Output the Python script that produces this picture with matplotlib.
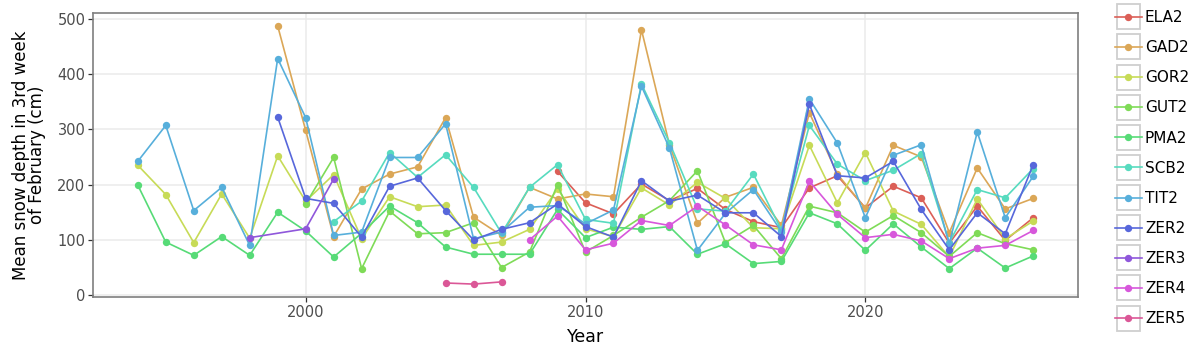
"""Mean February snow depth per station, 1994-2026 (plotnine-like look)."""
import numpy as np
import matplotlib
matplotlib.use("Agg")
import matplotlib.pyplot as plt
from matplotlib.patches import Rectangle
from matplotlib.transforms import IdentityTransform
import seaborn as sns

N = None

years = list(range(1994, 2027))

ELA2 = [N] * 15 + [224, 167, 147, 201, 171, 193, 155, 133, 122, 194,
                   216, 158, 197, 176, 94, 161, 99, 140]
GAD2 = [N] * 5 + [487, 298, 106, 192, 219, 232, 321, 141, 108, 195,
                  174, 183, 178, 480, 272, 130, 177, 195, 126, 330,
                  219, 157, 271, 250, 113, 230, 156, 175]
GOR2 = [235, 182, 95, 183, 103, 252, 170, 218, 102, 178,
        160, 163, 90, 96, 119, 192, 120, 106, 194, 163,
        204, 175, 122, 120, 271, 167, 258, 152, 128, 69,
        174, 102, 134]
GUT2 = [N] * 6 + [165, 249, 48, 152, 111, 113, 131, 50, 78, 200,
                  78, 108, 141, 171, 225, 95, 126, 66, 161, 149,
                  114, 144, 113, 70, 113, 93, 82]
PMA2 = [199, 96, 72, 106, 72, 150, 116, 69, 112, 161,
        131, 87, 74, 74, 74, 155, 104, 123, 119, 124,
        74, 93, 57, 61, 149, 129, 81, 129, 87, 48,
        85, 49, 71]
SCB2 = [N] * 7 + [133, 170, 258, 213, 254, 195, 112, 195, 236,
                  137, 130, 382, 276, 156, 152, 219, 118, 307, 237,
                  207, 226, 256, 95, 191, 176, 229]
TIT2 = [242, 307, 153, 195, 90, 428, 321, 108, 114, 249,
        249, 310, 102, 114, 159, 162, 129, 154, 378, 266,
        81, 148, 191, 115, 355, 275, 140, 253, 272, 93,
        295, 140, 215]
ZER2 = [N] * 5 + [322, 175, 166, 105, 197, 212, 153, 100, 119, 131,
                  165, 124, 105, 207, 170, 181, 149, 149, 106, 345,
                  216, 212, 242, 155, 82, 149, 111, 236]
ZER3 = [N] * 4 + [104, N, 120, 210] + [N] * 25
ZER4 = [N] * 14 + [100, 143, 82, 94, 135, 126, 161, 127, 91, 82,
                   206, 146, 104, 110, 98, 66, 85, 90, 117]
ZER5 = [N] * 11 + [22, 20, 24] + [N] * 19

stations = ["ELA2", "GAD2", "GOR2", "GUT2", "PMA2", "SCB2",
            "TIT2", "ZER2", "ZER3", "ZER4", "ZER5"]
series = [ELA2, GAD2, GOR2, GUT2, PMA2, SCB2, TIT2, ZER2, ZER3, ZER4, ZER5]

colors = sns.hls_palette(len(stations), h=0.01, l=0.6, s=0.65)

fig = plt.figure(figsize=(12, 3.6), dpi=100)
ax = fig.add_axes([93 / 1200, 1 - 297 / 360, (1078 - 93) / 1200, (297 - 13) / 360])

x_all = np.array(years, dtype=float)
for name, vals, col in zip(stations, series, colors):
    y = np.array([np.nan if v is None else v for v in vals], dtype=float)
    ok = ~np.isnan(y)
    ax.plot(x_all[ok], y[ok], color=col, lw=1.2, marker="o", ms=5.3,
            mew=0, label=name, zorder=3)

ax.margins(x=0.05, y=0.05)
ax.set_xticks([2000, 2010, 2020])
ax.set_yticks([0, 100, 200, 300, 400, 500])
ax.grid(True, color="#ebebeb", lw=1.1, zorder=0)
ax.set_axisbelow(True)
for sp in ax.spines.values():
    sp.set_color("#7f7f7f")
    sp.set_linewidth(1.2)
ax.tick_params(length=3.5, width=0.9, color="#333333",
               labelcolor="#4d4d4d", labelsize=10.5, pad=2)
ax.set_xlabel("Year", fontsize=12.5, labelpad=6)
ax.set_ylabel("Mean snow depth in 3rd week\nof February (cm)",
              fontsize=12, linespacing=0.85, labelpad=8)

leg = fig.legend(loc="upper left", bbox_to_anchor=(1109 / 1200, 1 - 4 / 360),
                 frameon=False, fontsize=11, handlelength=1.75,
                 handletextpad=0.2, labelspacing=0.99, borderaxespad=0)

# ggplot-style gray boxes around each legend key
fig.canvas.draw()
renderer = fig.canvas.get_renderer()
for h in leg.legend_handles:
    bb = h.get_window_extent(renderer)
    cx, cy = (bb.x0 + bb.x1) / 2, (bb.y0 + bb.y1) / 2
    fig.patches.append(Rectangle((cx - 11.5, cy - 12.5), 23, 25,
                                 transform=IdentityTransform(),
                                 facecolor="white", edgecolor="#cfcfcf",
                                 lw=1.3, zorder=1))

fig.savefig("out.png", dpi=100)
